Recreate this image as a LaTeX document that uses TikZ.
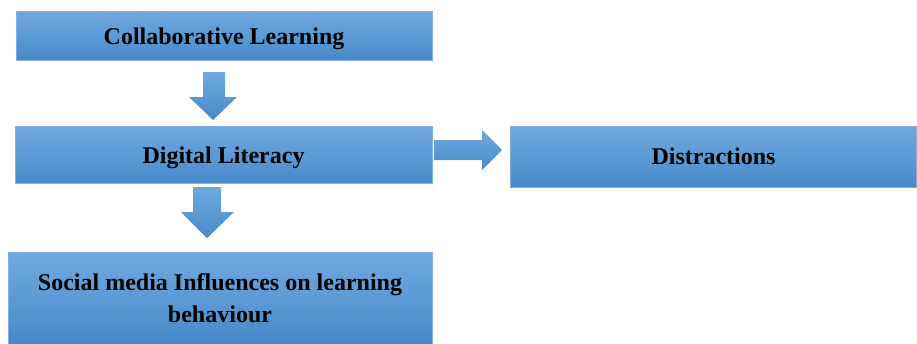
\documentclass[tikz,border=0pt]{standalone}
\usepackage{fontspec}
\setmainfont{Liberation Serif}
\definecolor{topblue}{RGB}{113,167,221}
\definecolor{midblue}{RGB}{91,155,213}
\definecolor{botblue}{RGB}{70,136,201}
\definecolor{edgeblue}{RGB}{130,175,225}
\newcommand{\lowtext}[2]{\raisebox{-#1}[0pt][0pt]{#2}}
\begin{document}
\begin{tikzpicture}[x=1pt,y=-1pt,
  blockbox/.style={rectangle, draw=edgeblue, line width=0.8pt,
    top color=topblue, bottom color=botblue, middle color=midblue,
    inner sep=0pt, font=\fontsize{24}{31.5}\selectfont\bfseries, align=center},
  blockarrow/.style={top color=topblue, bottom color=botblue, middle color=midblue, draw=none}]
\useasboundingbox (0,0) rectangle (917,343);
\node[blockbox, minimum width=416pt, minimum height=49pt] (cl) at (224,35.5) {\lowtext{9pt}{Collaborative Learning}};
\node[blockbox, minimum width=417pt, minimum height=57pt] (dl) at (223.5,154.5) {\lowtext{8.5pt}{Digital Literacy}};
\node[blockbox, minimum width=406pt, minimum height=61pt] (di) at (713.5,156.5) {\lowtext{7.5pt}{Distractions}};
\node[blockbox, minimum width=424pt, minimum height=92pt] (sm) at (220,298) {Social media Influences on learning\\behaviour};
% down arrow 1
\shade[blockarrow] (203,72) -- (225,72) -- (225,97) -- (237,97) -- (213,120) -- (189,97) -- (203,97) -- cycle;
% right arrow
\shade[blockarrow] (434,140) -- (482,140) -- (482,130) -- (502,150) -- (482,170) -- (482,160) -- (434,160) -- cycle;
% down arrow 2
\shade[blockarrow] (193,187) -- (221,187) -- (221,212) -- (234,212) -- (207,238) -- (181,212) -- (193,212) -- cycle;
\end{tikzpicture}
\end{document}
